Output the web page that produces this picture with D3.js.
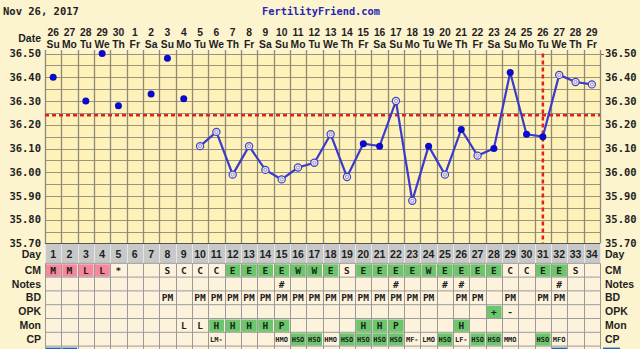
<!DOCTYPE html>
<html><head><meta charset="utf-8">
<script src="https://cdn.jsdelivr.net/npm/d3@7/dist/d3.min.js"></script>
<style>
html,body{margin:0;padding:0;background:#FCF3CF;}
svg{display:block;}
text{font-weight:bold;fill:#1e1e1e;}
.mono{font-family:"DejaVu Sans Mono",monospace;}
.lib{font-family:"Liberation Sans",Arial,sans-serif;}
.nar{font-family:"Liberation Sans Narrow","Liberation Sans",sans-serif;}
</style></head><body>
<script>
const days = [1,2,3,4,5,6,7,8,9,10,11,12,13,14,15,16,17,18,19,20,21,22,23,24,25,26,27,28,29,30,31,32,33,34];
const dateLabels = ["26","27","28","29","30","1","2","3","4","5","6","7","8","9","10","11","12","13","14","15","16","17","18","19","20","21","22","23","24","25","26","27","28","29"];
const weekdayLabels = ["Su","Mo","Tu","We","Th","Fr","Sa","Su","Mo","Tu","We","Th","Fr","Sa","Su","Mo","Tu","We","Th","Fr","Sa","Su","Mo","Tu","We","Th","Fr","Sa","Su","Mo","Tu","We","Th","Fr"];
const temps = [36.40,null,36.30,36.50,36.28,null,36.33,36.48,36.31,36.11,36.17,35.99,36.11,36.01,35.97,36.02,36.04,36.16,35.98,36.12,36.11,36.30,35.88,36.11,35.99,36.18,36.07,36.10,36.42,36.16,36.15,36.41,36.38,36.37];
// s = standalone filled, f = filled on line, o = open on line
const pointStyle = ["s","s","s","s","s","s","s","s","s","o","o","o","o","o","o","o","o","o","o","f","f","o","o","f","o","f","o","f","f","f","f","o","o","o"];
const yTicks = [36.50,36.40,36.30,36.20,36.10,36.00,35.90,35.80,35.70];
const coverline = 36.24;
const ovulationDay = 31;
const cm    = ["M","M","L","L","*","","","S","C","C","C","E","E","E","E","W","W","E","S","E","E","E","E","W","E","E","E","E","C","C","E","E","S",""];
const notes = ["","","","","","","","","","","","","","","#","","","","","","","#","","","#","#","","","","","","#","",""];
const bd    = ["","","","","","","","PM","","PM","PM","PM","PM","PM","PM","PM","PM","PM","PM","PM","PM","PM","PM","PM","","PM","PM","","PM","","PM","PM","",""];
const opk   = ["","","","","","","","","","","","","","","","","","","","","","","","","","","","+","-","","","","",""];
const mon   = ["","","","","","","","","L","L","H","H","H","H","P","","","","","H","H","P","","","","H","","","","","","","",""];
const cp    = ["","","","","","","","","","","LM-","","","","HMO","HSO","HSO","HMO","HSO","HSO","HSO","HSO","MF-","LMO","HSO","LF-","HSO","HSO","MMO","","HSO","MFO","",""];
const extraRow = [1,2,32];
const rowNames = ["CM","Notes","BD","OPK","Mon","CP"];

const W = 640, H = 349;
const svg = d3.select("body").append("svg").attr("width",W).attr("height",H);

const x = d3.scaleBand().domain(days).range([45,600]).padding(0);
const y = d3.scaleLinear().domain([35.70,36.50]).range([243.5,53.5]);
const bw = x.bandwidth();
const cx = d => x(d) + bw/2;

// title
svg.append("text").attr("class","mono").attr("x",3).attr("y",15).attr("font-size",10.5).text("Nov 26, 2017");
svg.append("text").attr("class","mono").attr("x",321).attr("y",15).attr("font-size",10.3).attr("text-anchor","middle")
  .style("fill","#2626B0").text("FertilityFriend.com");

// plot background
svg.append("rect").attr("x",x(1)).attr("y",y(36.50)).attr("width",600-45).attr("height",y(35.70)-y(36.50)).attr("fill","#FFF2B8");

// horizontal grid every 0.05
const hLines = d3.range(0,17).map(i => 35.70 + i*0.05);
svg.append("g").selectAll("line").data(hLines).join("line")
  .attr("x1",45).attr("x2",600).attr("y1",d=>Math.round(y(d))+0.5).attr("y2",d=>Math.round(y(d))+0.5)
  .attr("stroke","#9a9482").attr("stroke-width",1);
svg.append("line").attr("x1",600).attr("x2",604).attr("y1",Math.round(y(36.5))+0.5).attr("y2",Math.round(y(36.5))+0.5).attr("stroke","#666");

// vertical grid lines
const vEdges = days.map(d => x(d)).concat([600]);
svg.append("g").selectAll("line").data(vEdges).join("line")
  .attr("x1",d=>Math.round(d)+0.5).attr("x2",d=>Math.round(d)+0.5)
  .attr("y1",50).attr("y2",243.5)
  .attr("stroke","#8d8878").attr("stroke-width",1.3);

// axis labels
const yl = svg.append("g").selectAll("g").data(yTicks).join("g");
yl.append("text").attr("class","mono").attr("x",41).attr("y",d=>y(d)+3.5).attr("text-anchor","end").attr("font-size",10.5).text(d=>d.toFixed(2));
yl.append("text").attr("class","mono").attr("x",605).attr("y",d=>y(d)+3.5).attr("text-anchor","start").attr("font-size",10.5).text(d=>d.toFixed(2));

// header dates
svg.append("text").attr("class","lib").attr("x",41).attr("y",42).attr("text-anchor","end").attr("font-size",10.5).text("Date");
svg.append("g").selectAll("text").data(days).join("text").attr("class","nar")
  .attr("x",d=>cx(d)).attr("y",35.5).attr("text-anchor","middle").attr("font-size",10.3)
  .text((d,i)=>dateLabels[i]);
svg.append("g").selectAll("text").data(days).join("text").attr("class","nar")
  .attr("x",d=>cx(d)).attr("y",47.5).attr("text-anchor","middle").attr("font-size",10.3)
  .text((d,i)=>weekdayLabels[i]);

// coverline and ovulation line
svg.append("line").attr("x1",45).attr("x2",600).attr("y1",y(coverline)).attr("y2",y(coverline))
  .attr("stroke","#E02020").attr("stroke-width",2.5).attr("stroke-dasharray","4,3");
svg.append("line").attr("x1",cx(ovulationDay)).attr("x2",cx(ovulationDay)).attr("y1",y(36.5)).attr("y2",y(35.7))
  .attr("stroke","#E02020").attr("stroke-width",2.5).attr("stroke-dasharray","4,3");

// temperature line
const pts = days.map((d,i)=>({d, t:temps[i], s:pointStyle[i]})).filter(p=>p.t!==null);
const linePts = pts.filter(p=>p.s!=="s");
svg.append("path").datum(linePts)
  .attr("d", d3.line().x(p=>cx(p.d)).y(p=>y(p.t)))
  .attr("fill","none").attr("stroke","#3B3BCB").attr("stroke-width",2.2);
svg.append("g").selectAll("circle").data(pts.filter(p=>p.s!=="o")).join("circle")
  .attr("cx",p=>cx(p.d)).attr("cy",p=>y(p.t)).attr("r",3.5).attr("fill","#0A0ACF");
const op = svg.append("g").selectAll("g").data(pts.filter(p=>p.s==="o")).join("g");
op.append("circle").attr("cx",p=>cx(p.d)).attr("cy",p=>y(p.t)).attr("r",3.6)
  .attr("fill","#F3EEDA").attr("stroke","#4040CC").attr("stroke-width",1.2);
op.append("circle").attr("cx",p=>cx(p.d)).attr("cy",p=>y(p.t)).attr("r",1.6)
  .attr("fill","none").attr("stroke","#8080DD").attr("stroke-width",0.8);

// table
const dayTop = 243.5, dayBot = 263.3, rowH = 13.8;
svg.append("rect").attr("x",45).attr("y",dayTop).attr("width",555).attr("height",dayBot-dayTop).attr("fill","#C8C8C8");
svg.append("rect").attr("x",45).attr("y",dayBot).attr("width",555).attr("height",H-dayBot).attr("fill","#FDF3DC");
svg.append("g").selectAll("text").data(days).join("text").attr("class","lib")
  .attr("x",d=>cx(d)).attr("y",dayTop+14).attr("text-anchor","middle").attr("font-size",10.5).text(d=>d);
svg.append("text").attr("class","lib").attr("x",41).attr("y",dayTop+14).attr("text-anchor","end").attr("font-size",10.5).text("Day");
svg.append("text").attr("class","lib").attr("x",605).attr("y",dayTop+14).attr("font-size",10.5).text("Day");

const rowsData = [cm,notes,bd,opk,mon,cp];
const isColored = (r,v) => {
  if (r===0) return (v==="M"||v==="L") ? "#F4889C" : (v==="E"||v==="W") ? "#6CC66C" : null;
  if (r===3) return v==="+" ? "#6CC66C" : null;
  if (r===4) return (v==="H"||v==="P") ? "#6CC66C" : null;
  if (r===5) return v==="HSO" ? "#6CC66C" : null;
  return null;
};
rowsData.forEach((arr,r)=>{
  const ry = dayBot + r*rowH;
  const g = svg.append("g");
  g.selectAll("rect").data(days.filter((d,i)=>isColored(r,arr[i]))).join("rect")
    .attr("x",d=>x(d)+1).attr("y",ry+1).attr("width",bw-1.5).attr("height",rowH-1.5)
    .attr("fill",d=>isColored(r,arr[d-1]));
  g.selectAll("text").data(days.filter((d,i)=>arr[i])).join("text").attr("class","mono")
    .attr("x",d=>cx(d)).attr("y",ry+(r===5?9.5:10.5)).attr("text-anchor","middle")
    .attr("font-size", r===5 ? 7 : 9.5)
    .text(d=>arr[d-1]);
  svg.append("text").attr("class","lib").attr("x",41).attr("y",ry+10.5).attr("text-anchor","end").attr("font-size",10.5).text(rowNames[r]);
  svg.append("text").attr("class","lib").attr("x",605).attr("y",ry+10.5).attr("font-size",10.5).text(rowNames[r]);
});
// extra (partially visible) row
const exY = dayBot + 6*rowH;
svg.append("g").selectAll("rect").data(extraRow).join("rect")
  .attr("x",d=>x(d)+1).attr("y",exY+1.5).attr("width",bw-1.5).attr("height",8).attr("fill","#1F62C4");
svg.append("rect").attr("x",603).attr("y",exY+1.5).attr("width",17).attr("height",8).attr("fill","#1F62C4");

// table grid
svg.append("g").selectAll("line").data(d3.range(0,8)).join("line")
  .attr("x1",45).attr("x2",600).attr("y1",i=>dayBot+i*rowH).attr("y2",i=>dayBot+i*rowH)
  .attr("stroke","#9a9a9a").attr("stroke-width",1);
svg.append("g").selectAll("line").data(vEdges).join("line")
  .attr("x1",d=>Math.round(d)+0.5).attr("x2",d=>Math.round(d)+0.5)
  .attr("y1",dayTop).attr("y2",dayBot).attr("stroke","#E6E6E6").attr("stroke-width",1);
svg.append("g").selectAll("line").data(vEdges).join("line")
  .attr("x1",d=>Math.round(d)+0.5).attr("x2",d=>Math.round(d)+0.5)
  .attr("y1",dayBot).attr("y2",H).attr("stroke","#9a9a9a").attr("stroke-width",1);
svg.append("line").attr("x1",45).attr("x2",600).attr("y1",dayTop).attr("y2",dayTop).attr("stroke","#555").attr("stroke-width",1);
</script>
</body></html>
